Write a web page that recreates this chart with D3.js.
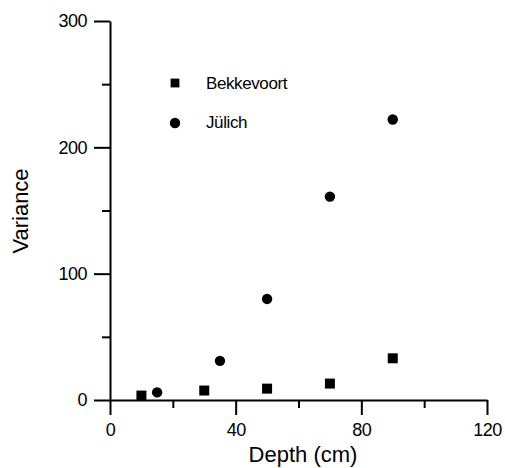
<!DOCTYPE html>
<html>
<head>
<meta charset="utf-8">
<script src="https://cdn.jsdelivr.net/npm/d3@7"></script>
<style>
  body { margin: 0; background: #fff; }
  svg { display: block; font-family: "Liberation Sans", Arial, sans-serif; }
</style>
</head>
<body>
<svg id="chart" width="505" height="468"></svg>
<script>
// data
const depthB = [10, 30, 50, 70, 90];
const varB = [3.5, 7.5, 9, 13, 33];
const depthJ = [15, 35, 50, 70, 90];
const varJ = [6, 31, 80, 161, 222];
const xMajor = [0, 40, 80, 120];
const xMinor = [20, 60, 100];
const yMajor = [0, 100, 200, 300];
const yMinor = [50, 150, 250];
const seriesNames = ['Bekkevoort', 'J\u00fclich'];

const svg = d3.select('#chart');
const x = d3.scaleLinear().domain([0, 120]).range([110, 487]);
const y = d3.scaleLinear().domain([0, 300]).range([400, 21]);

// axes: major + minor ticks
const axisStyle = g => {
  g.select('.domain').attr('stroke', '#000').attr('stroke-width', 2);
  g.selectAll('.tick line').attr('stroke', '#000').attr('stroke-width', 2);
  g.selectAll('text').attr('fill', '#000').attr('font-size', 18).attr('letter-spacing', -0.5);
};

svg.append('g')
  .attr('transform', 'translate(0,400)')
  .call(d3.axisBottom(x).tickValues(xMinor).tickSize(8).tickFormat('').tickSizeOuter(0))
  .call(axisStyle);
svg.append('g')
  .attr('transform', 'translate(0,400)')
  .call(d3.axisBottom(x).tickValues(xMajor).tickSize(15).tickPadding(8).tickSizeOuter(0))
  .call(axisStyle)
  .call(g => g.select('.domain').remove());

svg.append('g')
  .attr('transform', 'translate(110,0)')
  .call(d3.axisLeft(y).tickValues(yMinor).tickSize(8).tickFormat('').tickSizeOuter(0))
  .call(axisStyle);
svg.append('g')
  .attr('transform', 'translate(110,0)')
  .call(d3.axisLeft(y).tickValues(yMajor).tickSize(16).tickPadding(7).tickSizeOuter(0))
  .call(axisStyle)
  .call(g => g.select('.domain').remove());

// axis titles
svg.append('text')
  .attr('x', 303).attr('y', 462)
  .attr('text-anchor', 'middle')
  .attr('font-size', 22)
  .text('Depth (cm)');
svg.append('text')
  .attr('transform', 'translate(28,211) rotate(-90)')
  .attr('text-anchor', 'middle')
  .attr('font-size', 22)
  .text('Variance');

// points
const square = d3.symbol().type(d3.symbolSquare).size(100);
const circle = d3.symbol().type(d3.symbolCircle).size(85);

svg.append('g').selectAll('path')
  .data(depthB.map((d, i) => [d, varB[i]]))
  .join('path')
  .attr('d', square)
  .attr('transform', d => `translate(${x(d[0])},${y(d[1])})`)
  .attr('fill', '#000');

svg.append('g').selectAll('path')
  .data(depthJ.map((d, i) => [d, varJ[i]]))
  .join('path')
  .attr('d', circle)
  .attr('transform', d => `translate(${x(d[0])},${y(d[1])})`)
  .attr('fill', '#000');

// legend
const legend = svg.append('g');
legend.append('path').attr('d', d3.symbol().type(d3.symbolSquare).size(78))
  .attr('transform', 'translate(175,83)').attr('fill', '#000');
legend.append('path').attr('d', circle)
  .attr('transform', 'translate(175,123)').attr('fill', '#000');
legend.selectAll('text')
  .data(seriesNames)
  .join('text')
  .attr('x', 206)
  .attr('y', (d, i) => 89 + i * 39)
  .attr('font-size', 17)
  .attr('letter-spacing', -0.4)
  .text(d => d);
</script>
</body>
</html>
